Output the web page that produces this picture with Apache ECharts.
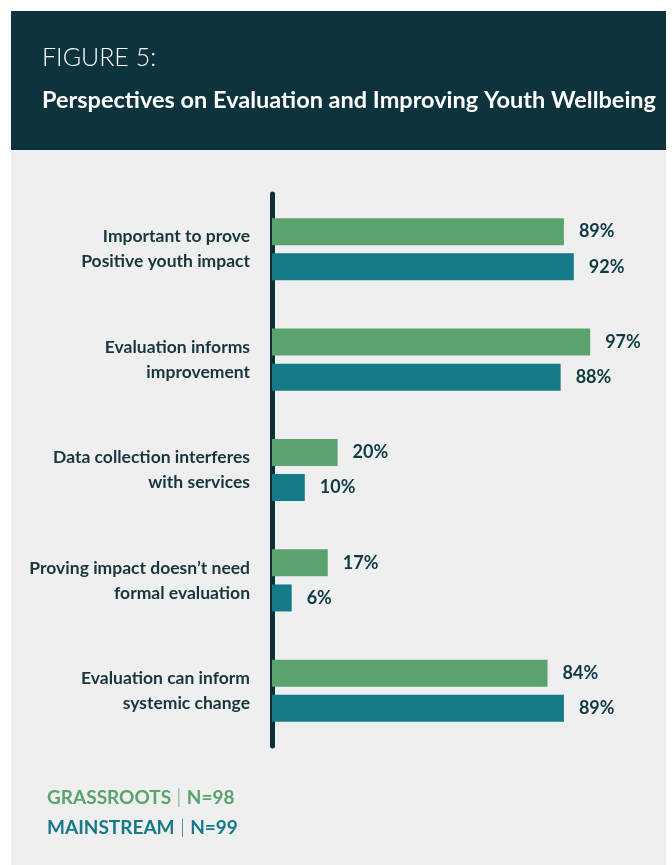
<!DOCTYPE html>
<html>
<head>
<meta charset="utf-8">
<script src="https://cdn.jsdelivr.net/npm/echarts@6/dist/echarts.min.js"></script>
<style>
  html, body { margin: 0; padding: 0; background: #ffffff; }
  #chart { width: 672px; height: 865px; }
</style>
</head>
<body>
<div id="chart"></div>
<script>
// categories (top to bottom) and percentages
const categories = [
  'Important to prove\nPositive youth impact',
  'Evaluation informs\nimprovement',
  'Data collection interferes\nwith services',
  'Proving impact doesn\u2019t need\nformal evaluation',
  'Evaluation can inform\nsystemic change'
]
const grassroots = [89, 97, 20, 17, 84]
const mainstream = [92, 88, 10, 6, 89]
const groupNames = ['GRASSROOTS', 'MAINSTREAM']
const groupN = [98, 99]

const green = '#5aa36f'
const teal = '#147a87'
const dark = '#0d343d'
const font = 'Lato'

const chart = echarts.init(document.getElementById('chart'))

const option = {
  backgroundColor: '#ffffff',
  textStyle: { fontFamily: font },
  graphic: [
    // header block and panel background
    { type: 'rect', z: -10, shape: { x: 11, y: 11, width: 655, height: 139 }, style: { fill: dark } },
    { type: 'rect', z: -10, shape: { x: 11, y: 150, width: 655, height: 715 }, style: { fill: '#efefef' } }
  ],
  title: [
    {
      text: 'FIGURE 5:',
      left: 37,
      top: 40,
      textStyle: { color: '#ffffff', fontSize: 25, fontWeight: 300, fontFamily: font }
    },
    {
      text: 'Perspectives on Evaluation and Improving Youth Wellbeing',
      left: 37,
      top: 83,
      textStyle: { color: '#ffffff', fontSize: 23.5, fontWeight: 'bold', fontFamily: font }
    }
  ],
  legend: {
    orient: 'vertical',
    left: 37,
    top: 783,
    icon: 'none',
    itemWidth: 0,
    itemGap: 10,
    selectedMode: false,
    data: ['Grassroots', 'Mainstream'],
    formatter: function (name) {
      const i = name === 'Grassroots' ? 0 : 1
      const k = i === 0 ? 'g' : 'm'
      return '{' + k + '|' + groupNames[i] + '}{' + k + 's| | }{' + k + '|N=' + groupN[i] + '}'
    },
    textStyle: {
      rich: {
        g: { color: green, fontSize: 19, fontWeight: 'bold', fontFamily: font },
        gs: { color: green, fontSize: 20, fontWeight: 300, fontFamily: font },
        m: { color: teal, fontSize: 19, fontWeight: 'bold', fontFamily: font },
        ms: { color: teal, fontSize: 20, fontWeight: 300, fontFamily: font }
      }
    }
  },
  grid: {
    left: 272,
    top: 194,
    width: 328,
    height: 552
  },
  xAxis: {
    type: 'value',
    min: 0,
    max: 100,
    show: false
  },
  yAxis: {
    type: 'category',
    inverse: true,
    data: categories,
    axisLine: { show: true, lineStyle: { color: '#0b3038', width: 5 } },
    axisTick: { show: false },
    axisLabel: {
      margin: 22,
      color: '#16353c',
      fontSize: 17.5,
      fontWeight: 'bold',
      fontFamily: font,
      lineHeight: 25,
      align: 'right'
    }
  },
  series: [
    {
      name: 'Grassroots',
      type: 'bar',
      data: grassroots,
      barWidth: 27,
      barGap: '30%',
      itemStyle: { color: green },
      label: {
        show: true,
        position: 'right',
        distance: 15,
        formatter: '{c}%',
        color: '#0e3a44',
        fontSize: 18,
        fontWeight: 'bold',
        fontFamily: font
      }
    },
    {
      name: 'Mainstream',
      type: 'bar',
      data: mainstream,
      barWidth: 27,
      barGap: '30%',
      itemStyle: { color: teal },
      label: {
        show: true,
        position: 'right',
        distance: 15,
        formatter: '{c}%',
        color: '#0e3a44',
        fontSize: 18,
        fontWeight: 'bold',
        fontFamily: font
      }
    }
  ]
}

chart.setOption(option)
</script>
</body>
</html>
